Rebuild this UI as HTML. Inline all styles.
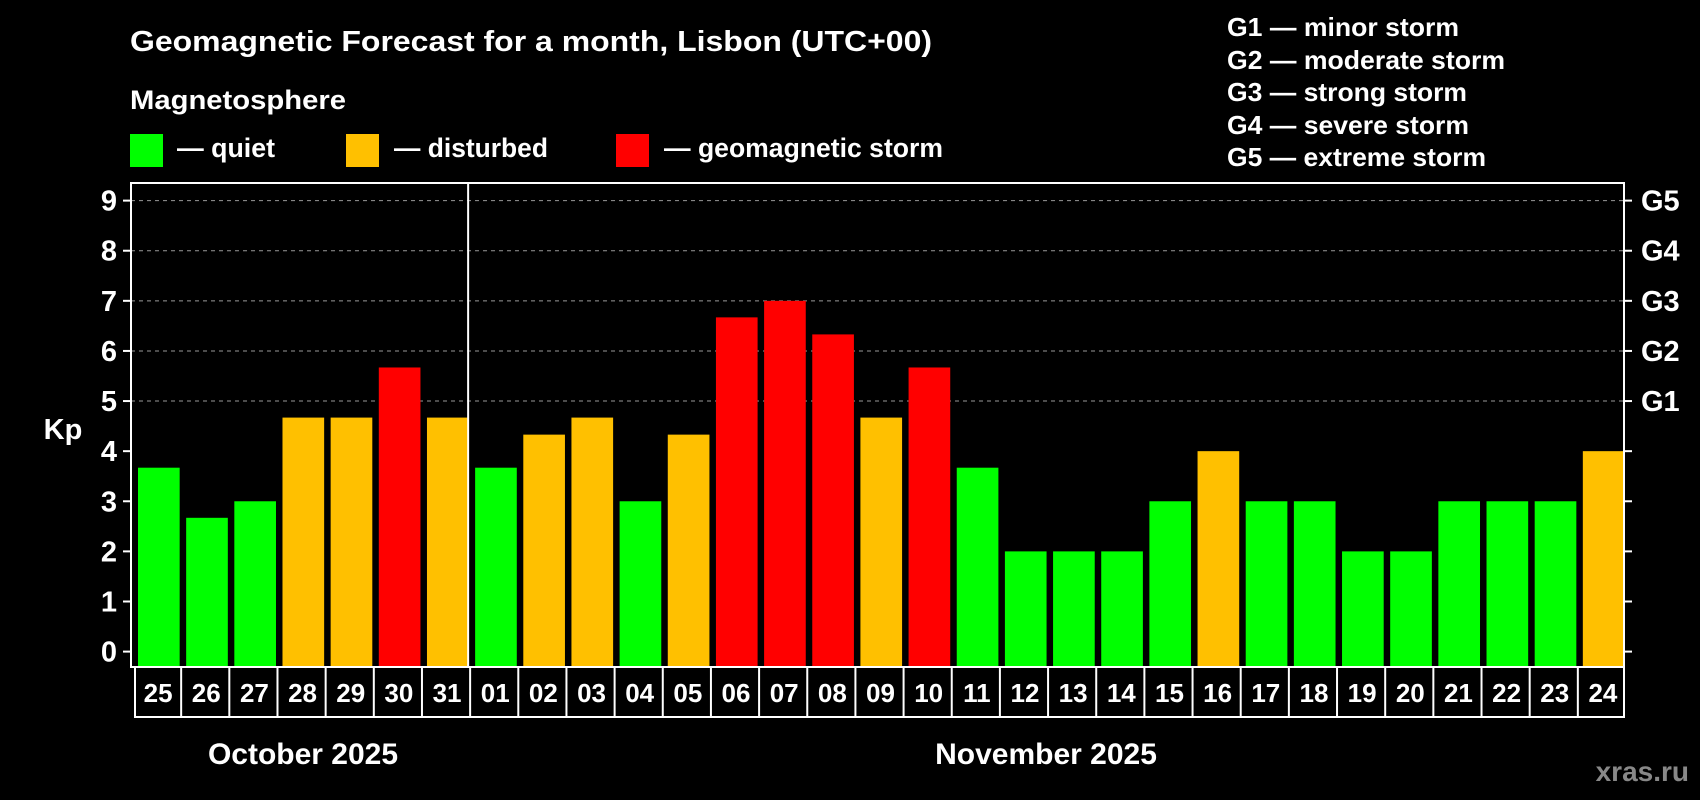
<!DOCTYPE html>
<html><head><meta charset="utf-8"><style>
html,body{margin:0;padding:0;background:#000;}
svg{display:block;font-family:"Liberation Sans",Arial,sans-serif;font-weight:bold;}
</style></head><body>
<svg id="chart" width="1700" height="800" viewBox="0 0 1700 800">
<rect width="1700" height="800" fill="#000"/>
<text x="130" y="51" fill="#fff" font-size="29" textLength="802" lengthAdjust="spacingAndGlyphs">Geomagnetic Forecast for a month, Lisbon (UTC+00)</text>
<text x="130" y="109" fill="#fff" font-size="27" textLength="216" lengthAdjust="spacingAndGlyphs">Magnetosphere</text>
<g>
<rect x="130" y="134" width="33" height="33" fill="#00ff00"/>
<text x="177" y="157" fill="#fff" font-size="27" textLength="98" lengthAdjust="spacingAndGlyphs">— quiet</text></g>
<g>
<rect x="346" y="134" width="33" height="33" fill="#ffc000"/>
<text x="394" y="157" fill="#fff" font-size="27" textLength="154" lengthAdjust="spacingAndGlyphs">— disturbed</text></g>
<g>
<rect x="616" y="134" width="33" height="33" fill="#ff0000"/>
<text x="664" y="157" fill="#fff" font-size="27" textLength="279" lengthAdjust="spacingAndGlyphs">— geomagnetic storm</text></g>
<g fill="#fff" font-size="26">
<text x="1227" y="36" textLength="232" lengthAdjust="spacingAndGlyphs">G1 — minor storm</text>
<text x="1227" y="69" textLength="278" lengthAdjust="spacingAndGlyphs">G2 — moderate storm</text>
<text x="1227" y="101" textLength="240" lengthAdjust="spacingAndGlyphs">G3 — strong storm</text>
<text x="1227" y="134" textLength="242" lengthAdjust="spacingAndGlyphs">G4 — severe storm</text>
<text x="1227" y="166" textLength="259" lengthAdjust="spacingAndGlyphs">G5 — extreme storm</text>
</g>
<g id="plot"></g>
<text x="63" y="439" fill="#fff" font-size="29" text-anchor="middle">Kp</text>
<text x="303" y="764" fill="#fff" font-size="30" text-anchor="middle">October 2025</text>
<text x="1046" y="764" fill="#fff" font-size="30" text-anchor="middle">November 2025</text>
<text x="1689" y="781" fill="#888" font-size="28" text-anchor="end">xras.ru</text>
</svg>
<script>
const days = ["25","26","27","28","29","30","31","01","02","03","04","05","06","07","08","09","10","11","12","13","14","15","16","17","18","19","20","21","22","23","24"];
const kpValues = [3.67,2.67,3,4.67,4.67,5.67,4.67,3.67,4.33,4.67,3,4.33,6.67,7,6.33,4.67,5.67,3.67,2,2,2,3,4,3,3,2,2,3,3,3,4];
const yTicks = [0,1,2,3,4,5,6,7,8,9];
const gLabels = ["G1","G2","G3","G4","G5"];
const gLevels = [5,6,7,8,9];
const monthSplit = 7;

const NS = "http://www.w3.org/2000/svg";
const plot = document.getElementById('plot');
const L = 131, R = 1624, T = 183, B = 667;
const y0 = 651.6, unit = 50.11;
const pitch = (R - L) / days.length;
function yS(v){ return y0 - v * unit; }
function xS(i){ return L + i * pitch; }
function mk(tag, attrs){ const e = document.createElementNS(NS, tag); for (const k in attrs) e.setAttribute(k, attrs[k]); plot.appendChild(e); return e; }
function color(v){ return v >= 5 ? '#ff0000' : (v >= 4 ? '#ffc000' : '#00ff00'); }

gLevels.forEach((lv, i) => {
  const g = mk('line', {x1:L, x2:R, y1:yS(lv), y2:yS(lv), stroke:'#999', 'stroke-width':1, 'stroke-dasharray':'4,4'});
  
  
});
kpValues.forEach((v, i) => {
  const b = mk('rect', {x:xS(i)+7, y:yS(v), width:pitch-6.5, height:B - yS(v), fill:color(v)});
  
  
});
const frame = mk('rect', {x:L, y:T, width:R-L, height:B-T, fill:'none', stroke:'#fff', 'stroke-width':2});


const sep = mk('line', {x1:xS(monthSplit), x2:xS(monthSplit), y1:T, y2:B, stroke:'#fff', 'stroke-width':2});


yTicks.forEach(t => {
  const tk = mk('line', {x1:L-8, x2:L, y1:yS(t), y2:yS(t), stroke:'#fff', 'stroke-width':2});
  
  
  const tr = mk('line', {x1:R, x2:R+8, y1:yS(t), y2:yS(t), stroke:'#fff', 'stroke-width':2});
  
  
  const lb = mk('text', {x:117, y:yS(t)+10, fill:'#fff', 'font-size':29, 'text-anchor':'end'});
  lb.textContent = t;
  
  
});
gLevels.forEach((lv, i) => {
  const lb = mk('text', {x:1641, y:yS(lv)+10, fill:'#fff', 'font-size':29});
  lb.textContent = gLabels[i];
  
  
});
const box = mk('rect', {x:xS(0)+4, y:B, width:R-L-4, height:50, fill:'none', stroke:'#fff', 'stroke-width':2});


days.forEach((d, i) => {
  if (i > 0) {
    const dv = mk('line', {x1:xS(i)+2, x2:xS(i)+2, y1:B, y2:B+50, stroke:'#fff', 'stroke-width':2});
    
    
  }
  const t = mk('text', {x:xS(i)+pitch/2+3, y:B+35, fill:'#fff', 'font-size':26, 'text-anchor':'middle'});
  t.textContent = d;
  
  
});
</script>
</body></html>
